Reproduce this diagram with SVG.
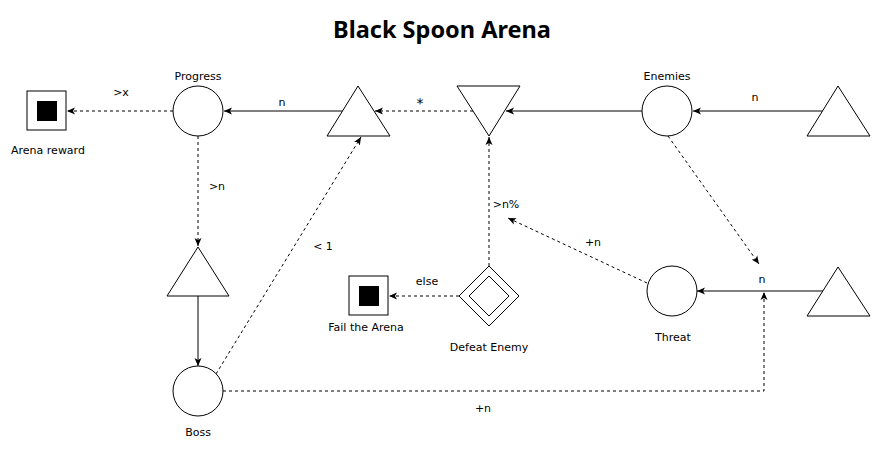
<svg xmlns="http://www.w3.org/2000/svg" width="882" height="452" viewBox="0 0 882 452">
<style>
.s{fill:#fff;stroke:#000;stroke-width:1}
.c{fill:none;stroke:#000;stroke-width:1}
.d{stroke-dasharray:3 3}
.t{font-family:"DejaVu Sans",sans-serif;font-size:11px;fill:#000;text-anchor:middle}
.title{font-family:"Noto Sans",sans-serif;font-size:23.5px;font-weight:bold;fill:#000;text-anchor:middle}
</style>
<defs>
<marker id="a" viewBox="0 0 8 8" refX="8" refY="4" markerWidth="8" markerHeight="8" markerUnits="userSpaceOnUse" orient="auto">
<path d="M0,0.5 L8,4 L0,7.5 L2,4 Z" fill="#000"/>
</marker>
</defs>
<rect width="882" height="452" fill="#fff"/>
<text class="title" x="442" y="38">Black Spoon Arena</text>
<g id="connectors">
<line class="c d" x1="173" y1="111" x2="67" y2="111" marker-end="url(#a)"/>
<line class="c" x1="343" y1="111" x2="224" y2="111" marker-end="url(#a)"/>
<line class="c d" x1="473" y1="111" x2="375" y2="111" marker-end="url(#a)"/>
<line class="c" x1="642" y1="111" x2="506" y2="111" marker-end="url(#a)"/>
<line class="c" x1="823" y1="111" x2="693" y2="111" marker-end="url(#a)"/>
<line class="c d" x1="198" y1="136" x2="198" y2="246" marker-end="url(#a)"/>
<line class="c" x1="198" y1="296" x2="198" y2="366" marker-end="url(#a)"/>
<line class="c d" x1="216" y1="374" x2="361" y2="137" marker-end="url(#a)"/>
<polyline class="c d" points="223,391 764,391 764,292" marker-end="url(#a)"/>
<line class="c d" x1="668" y1="136" x2="759" y2="264" marker-end="url(#a)"/>
<line class="c d" x1="647" y1="283" x2="508" y2="218" marker-end="url(#a)"/>
<line class="c d" x1="489" y1="266" x2="489" y2="137" marker-end="url(#a)"/>
<line class="c d" x1="459" y1="296" x2="389" y2="296" marker-end="url(#a)"/>
<line class="c" x1="823" y1="291" x2="697" y2="291" marker-end="url(#a)"/>
<text class="t" x="121" y="96">&gt;x</text>
<text class="t" x="282" y="106">n</text>
<text class="t" x="420" y="108" style="font-size:14px">*</text>
<text class="t" x="755" y="101">n</text>
<text class="t" x="217" y="190">&gt;n</text>
<text class="t" x="323" y="250">&lt; 1</text>
<text class="t" x="506" y="208">&gt;n%</text>
<text class="t" x="593" y="246">+n</text>
<text class="t" x="427" y="285">else</text>
<text class="t" x="762" y="283">n</text>
<text class="t" x="483" y="412">+n</text>
</g>
<g id="arena-reward">
<rect class="s" x="27" y="91" width="39" height="39"/>
<rect x="37" y="101" width="20" height="20" fill="#000"/>
<text class="t" x="48" y="154">Arena reward</text>
</g>
<g id="progress">
<circle class="s" cx="198" cy="111" r="25"/>
<text class="t" x="198" y="80">Progress</text>
</g>
<g id="source-progress">
<polygon class="s" points="358,86 390,136 327,136"/>
</g>
<g id="gate">
<polygon class="s" points="457,86 520,86 489,136"/>
</g>
<g id="enemies">
<circle class="s" cx="667" cy="111" r="25"/>
<text class="t" x="667" y="80">Enemies</text>
</g>
<g id="source-enemies">
<polygon class="s" points="838,86 870,136 807,136"/>
</g>
<g id="source-boss">
<polygon class="s" points="198,247 229,296 167,296"/>
</g>
<g id="boss">
<circle class="s" cx="198" cy="391" r="25"/>
<text class="t" x="198" y="436">Boss</text>
</g>
<g id="fail">
<rect class="s" x="349" y="276" width="39" height="39"/>
<rect x="359" y="286" width="20" height="20" fill="#000"/>
<text class="t" x="366" y="331">Fail the Arena</text>
</g>
<g id="defeat-enemy">
<polygon class="s" points="489,266 519,296 489,326 459,296"/>
<polygon class="s" points="489,276 509,296 489,316 469,296"/>
<text class="t" x="489" y="351">Defeat Enemy</text>
</g>
<g id="threat">
<circle class="s" cx="672" cy="291" r="25"/>
<text class="t" x="673" y="341">Threat</text>
</g>
<g id="source-threat">
<polygon class="s" points="838,267 870,316 807,316"/>
</g>
</svg>
